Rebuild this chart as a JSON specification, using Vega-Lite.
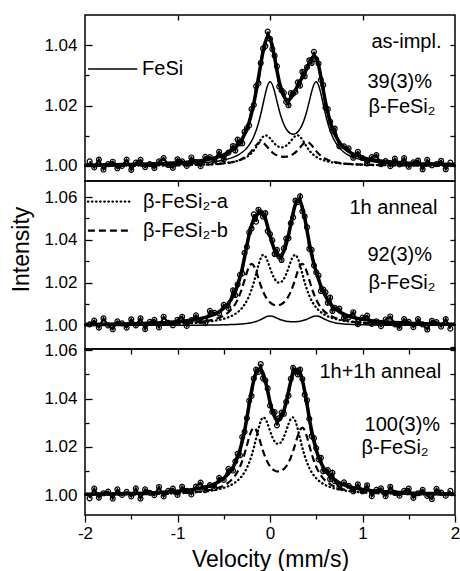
{
"$schema": "https://vega.github.io/schema/vega-lite/v6.json",
"autosize": {"type": "pad"},
"padding": {"left": 9, "top": 13, "right": 0, "bottom": 0},
"background": "white",
"spacing": 0,
"bounds": "flush",
"config": {
 "font": "Liberation Sans",
 "view": {"stroke": "black", "strokeWidth": 1.5},
 "axis": {"grid": false, "domain": false, "labelFont": "Liberation Sans", "titleFont": "Liberation Sans", "labelColor": "black", "titleColor": "black", "tickColor": "black", "tickWidth": 1.3, "labelFontSize": 17, "titleFontSize": 23, "titleFontWeight": "normal", "labelFlush": false}
},
"datasets": {
"fit": [
{"v":-2,"f1":1.00017,"a1":1.00006,"b1":1.00005,"t1":1.00028,"f2":1.00003,"a2":1.00021,"b2":1.00021,"t2":1.00045,"a3":1.00021,"b3":1.0002,"t3":1.00041},
{"v":-1.75,"f1":1.00022,"a1":1.00008,"b1":1.00007,"t1":1.00037,"f2":1.00003,"a2":1.00028,"b2":1.00027,"t2":1.00058,"a3":1.00027,"b3":1.00026,"t3":1.00053},
{"v":-1.5,"f1":1.00028,"a1":1.00011,"b1":1.00009,"t1":1.00048,"f2":1.00005,"a2":1.00037,"b2":1.00038,"t2":1.0008,"a3":1.00036,"b3":1.00035,"t3":1.00071},
{"v":-1.25,"f1":1.00039,"a1":1.00016,"b1":1.00013,"t1":1.00068,"f2":1.00006,"a2":1.00053,"b2":1.00055,"t2":1.00114,"a3":1.00052,"b3":1.00051,"t3":1.00103},
{"v":-1,"f1":1.00059,"a1":1.00024,"b1":1.0002,"t1":1.00103,"f2":1.00009,"a2":1.00081,"b2":1.00089,"t2":1.00179,"a3":1.00079,"b3":1.00082,"t3":1.00161},
{"v":-0.9,"f1":1.0007,"a1":1.00029,"b1":1.00025,"t1":1.00124,"f2":1.00011,"a2":1.001,"b2":1.00112,"t2":1.00223,"a3":1.00097,"b3":1.00103,"t3":1.002},
{"v":-0.8,"f1":1.00087,"a1":1.00036,"b1":1.00031,"t1":1.00154,"f2":1.00014,"a2":1.00125,"b2":1.00146,"t2":1.00285,"a3":1.00122,"b3":1.00133,"t3":1.00255},
{"v":-0.7,"f1":1.00109,"a1":1.00047,"b1":1.00041,"t1":1.00197,"f2":1.00017,"a2":1.00162,"b2":1.00199,"t2":1.00378,"a3":1.00158,"b3":1.00179,"t3":1.00337},
{"v":-0.65,"f1":1.00125,"a1":1.00053,"b1":1.00047,"t1":1.00225,"f2":1.0002,"a2":1.00186,"b2":1.00238,"t2":1.00444,"a3":1.00182,"b3":1.00213,"t3":1.00395},
{"v":-0.6,"f1":1.00143,"a1":1.00062,"b1":1.00056,"t1":1.00261,"f2":1.00023,"a2":1.00218,"b2":1.0029,"t2":1.00531,"a3":1.00213,"b3":1.00256,"t3":1.00469},
{"v":-0.55,"f1":1.00166,"a1":1.00073,"b1":1.00066,"t1":1.00305,"f2":1.00027,"a2":1.00258,"b2":1.00362,"t2":1.00647,"a3":1.00253,"b3":1.00315,"t3":1.00568},
{"v":-0.5,"f1":1.00195,"a1":1.00087,"b1":1.00081,"t1":1.00363,"f2":1.00031,"a2":1.00311,"b2":1.00463,"t2":1.00805,"a3":1.00304,"b3":1.00398,"t3":1.00702},
{"v":-0.45,"f1":1.00233,"a1":1.00106,"b1":1.00101,"t1":1.0044,"f2":1.00037,"a2":1.00382,"b2":1.00613,"t2":1.01032,"a3":1.00373,"b3":1.00517,"t3":1.0089},
{"v":-0.4,"f1":1.00284,"a1":1.00131,"b1":1.00129,"t1":1.00544,"f2":1.00045,"a2":1.0048,"b2":1.00844,"t2":1.01369,"a3":1.00469,"b3":1.00696,"t3":1.01165},
{"v":-0.375,"f1":1.00316,"a1":1.00148,"b1":1.00147,"t1":1.00611,"f2":1.0005,"a2":1.00543,"b2":1.01005,"t2":1.01598,"a3":1.00531,"b3":1.00821,"t3":1.01352},
{"v":-0.35,"f1":1.00353,"a1":1.00167,"b1":1.0017,"t1":1.0069,"f2":1.00056,"a2":1.00621,"b2":1.01208,"t2":1.01885,"a3":1.00606,"b3":1.00977,"t3":1.01583},
{"v":-0.325,"f1":1.00398,"a1":1.00191,"b1":1.00199,"t1":1.00788,"f2":1.00064,"a2":1.00715,"b2":1.01461,"t2":1.0224,"a3":1.00699,"b3":1.01174,"t3":1.01873},
{"v":-0.3,"f1":1.00452,"a1":1.0022,"b1":1.00234,"t1":1.00906,"f2":1.00072,"a2":1.00831,"b2":1.01769,"t2":1.02672,"a3":1.00812,"b3":1.0142,"t3":1.02232},
{"v":-0.275,"f1":1.00517,"a1":1.00256,"b1":1.00278,"t1":1.01051,"f2":1.00083,"a2":1.00977,"b2":1.0212,"t2":1.0318,"a3":1.00953,"b3":1.01718,"t3":1.02671},
{"v":-0.25,"f1":1.00597,"a1":1.003,"b1":1.00334,"t1":1.01231,"f2":1.00095,"a2":1.01159,"b2":1.02476,"t2":1.0373,"a3":1.0113,"b3":1.02059,"t3":1.03189},
{"v":-0.225,"f1":1.00696,"a1":1.00356,"b1":1.00404,"t1":1.01456,"f2":1.00111,"a2":1.01387,"b2":1.02758,"t2":1.04256,"a3":1.01353,"b3":1.02404,"t3":1.03757},
{"v":-0.2,"f1":1.0082,"a1":1.00426,"b1":1.00489,"t1":1.01735,"f2":1.00131,"a2":1.01672,"b2":1.02875,"t2":1.04678,"a3":1.01629,"b3":1.02678,"t3":1.04307},
{"v":-0.175,"f1":1.00976,"a1":1.00514,"b1":1.00585,"t1":1.02075,"f2":1.00156,"a2":1.02017,"b2":1.02781,"t2":1.04954,"a3":1.01965,"b3":1.02792,"t3":1.04757},
{"v":-0.15,"f1":1.01172,"a1":1.0062,"b1":1.00683,"t1":1.02475,"f2":1.00187,"a2":1.02412,"b2":1.02523,"t2":1.05122,"a3":1.02349,"b3":1.02704,"t3":1.05053},
{"v":-0.125,"f1":1.01416,"a1":1.00742,"b1":1.00761,"t1":1.02919,"f2":1.00226,"a2":1.02815,"b2":1.02192,"t2":1.05233,"a3":1.02742,"b3":1.02456,"t3":1.05198},
{"v":-0.1,"f1":1.01713,"a1":1.00866,"b1":1.00794,"t1":1.03373,"f2":1.00274,"a2":1.03142,"b2":1.01867,"t2":1.05283,"a3":1.03063,"b3":1.02138,"t3":1.05201},
{"v":-0.075,"f1":1.02052,"a1":1.00966,"b1":1.0077,"t1":1.03788,"f2":1.00328,"a2":1.03295,"b2":1.01588,"t2":1.05211,"a3":1.03217,"b3":1.01827,"t3":1.05044},
{"v":-0.05,"f1":1.02396,"a1":1.01013,"b1":1.007,"t1":1.04109,"f2":1.00383,"a2":1.03228,"b2":1.01367,"t2":1.04978,"a3":1.03162,"b3":1.01561,"t3":1.04723},
{"v":-0.025,"f1":1.0267,"a1":1.00992,"b1":1.00611,"t1":1.04273,"f2":1.00426,"a2":1.0299,"b2":1.012,"t2":1.04616,"a3":1.02945,"b3":1.01351,"t3":1.04296},
{"v":0,"f1":1.02785,"a1":1.00919,"b1":1.00524,"t1":1.04228,"f2":1.00445,"a2":1.02683,"b2":1.0108,"t2":1.04208,"a3":1.02666,"b3":1.01195,"t3":1.03861},
{"v":0.025,"f1":1.02699,"a1":1.00825,"b1":1.0045,"t1":1.03974,"f2":1.00431,"a2":1.02397,"b2":1.00999,"t2":1.03827,"a3":1.0241,"b3":1.01086,"t3":1.03496},
{"v":0.05,"f1":1.02456,"a1":1.00737,"b1":1.00392,"t1":1.03585,"f2":1.00392,"a2":1.02178,"b2":1.00953,"t2":1.03523,"a3":1.02226,"b3":1.01017,"t3":1.03243},
{"v":0.075,"f1":1.02143,"a1":1.0067,"b1":1.0035,"t1":1.03163,"f2":1.00342,"a2":1.02044,"b2":1.00938,"t2":1.03324,"a3":1.02131,"b3":1.00984,"t3":1.03115},
{"v":0.1,"f1":1.01838,"a1":1.00629,"b1":1.00322,"t1":1.02789,"f2":1.00293,"a2":1.02,"b2":1.00953,"t2":1.03246,"a3":1.02131,"b3":1.00984,"t3":1.03115},
{"v":0.125,"f1":1.01578,"a1":1.00615,"b1":1.00305,"t1":1.02498,"f2":1.00252,"a2":1.02044,"b2":1.00999,"t2":1.03295,"a3":1.02226,"b3":1.01017,"t3":1.03243},
{"v":0.15,"f1":1.01375,"a1":1.00629,"b1":1.003,"t1":1.02304,"f2":1.0022,"a2":1.02178,"b2":1.0108,"t2":1.03478,"a3":1.0241,"b3":1.01086,"t3":1.03496},
{"v":0.175,"f1":1.01227,"a1":1.0067,"b1":1.00305,"t1":1.02202,"f2":1.00196,"a2":1.02397,"b2":1.012,"t2":1.03793,"a3":1.02666,"b3":1.01195,"t3":1.03861},
{"v":0.2,"f1":1.01128,"a1":1.00737,"b1":1.00322,"t1":1.02187,"f2":1.0018,"a2":1.02683,"b2":1.01367,"t2":1.0423,"a3":1.02945,"b3":1.01351,"t3":1.04296},
{"v":0.225,"f1":1.0107,"a1":1.00825,"b1":1.0035,"t1":1.02245,"f2":1.00171,"a2":1.0299,"b2":1.01588,"t2":1.04749,"a3":1.03162,"b3":1.01561,"t3":1.04723},
{"v":0.25,"f1":1.01052,"a1":1.00919,"b1":1.00392,"t1":1.02363,"f2":1.00168,"a2":1.03228,"b2":1.01867,"t2":1.05263,"a3":1.03217,"b3":1.01827,"t3":1.05044},
{"v":0.275,"f1":1.0107,"a1":1.00992,"b1":1.0045,"t1":1.02512,"f2":1.00171,"a2":1.03295,"b2":1.02192,"t2":1.05658,"a3":1.03063,"b3":1.02138,"t3":1.05201},
{"v":0.3,"f1":1.01128,"a1":1.01013,"b1":1.00524,"t1":1.02665,"f2":1.0018,"a2":1.03142,"b2":1.02523,"t2":1.05845,"a3":1.02742,"b3":1.02456,"t3":1.05198},
{"v":0.325,"f1":1.01227,"a1":1.00966,"b1":1.00611,"t1":1.02804,"f2":1.00196,"a2":1.02815,"b2":1.02781,"t2":1.05792,"a3":1.02349,"b3":1.02704,"t3":1.05053},
{"v":0.35,"f1":1.01375,"a1":1.00866,"b1":1.007,"t1":1.02941,"f2":1.0022,"a2":1.02412,"b2":1.02875,"t2":1.05507,"a3":1.01965,"b3":1.02792,"t3":1.04757},
{"v":0.375,"f1":1.01578,"a1":1.00742,"b1":1.0077,"t1":1.0309,"f2":1.00252,"a2":1.02017,"b2":1.02758,"t2":1.05027,"a3":1.01629,"b3":1.02678,"t3":1.04307},
{"v":0.4,"f1":1.01838,"a1":1.0062,"b1":1.00794,"t1":1.03252,"f2":1.00293,"a2":1.01672,"b2":1.02476,"t2":1.04441,"a3":1.01353,"b3":1.02404,"t3":1.03757},
{"v":0.425,"f1":1.02143,"a1":1.00514,"b1":1.00761,"t1":1.03418,"f2":1.00342,"a2":1.01387,"b2":1.0212,"t2":1.03849,"a3":1.0113,"b3":1.02059,"t3":1.03189},
{"v":0.45,"f1":1.02456,"a1":1.00426,"b1":1.00683,"t1":1.03565,"f2":1.00392,"a2":1.01159,"b2":1.01769,"t2":1.0332,"a3":1.00953,"b3":1.01718,"t3":1.02671},
{"v":0.475,"f1":1.02699,"a1":1.00356,"b1":1.00585,"t1":1.0364,"f2":1.00431,"a2":1.00977,"b2":1.01461,"t2":1.02869,"a3":1.00812,"b3":1.0142,"t3":1.02232},
{"v":0.5,"f1":1.02785,"a1":1.003,"b1":1.00489,"t1":1.03574,"f2":1.00445,"a2":1.00831,"b2":1.01208,"t2":1.02484,"a3":1.00699,"b3":1.01174,"t3":1.01873},
{"v":0.525,"f1":1.0267,"a1":1.00256,"b1":1.00404,"t1":1.0333,"f2":1.00426,"a2":1.00715,"b2":1.01005,"t2":1.02146,"a3":1.00606,"b3":1.00977,"t3":1.01583},
{"v":0.55,"f1":1.02396,"a1":1.0022,"b1":1.00334,"t1":1.0295,"f2":1.00383,"a2":1.00621,"b2":1.00844,"t2":1.01848,"a3":1.00531,"b3":1.00821,"t3":1.01352},
{"v":0.575,"f1":1.02052,"a1":1.00191,"b1":1.00278,"t1":1.02521,"f2":1.00328,"a2":1.00543,"b2":1.00716,"t2":1.01587,"a3":1.00469,"b3":1.00696,"t3":1.01165},
{"v":0.6,"f1":1.01713,"a1":1.00167,"b1":1.00234,"t1":1.02114,"f2":1.00274,"a2":1.0048,"b2":1.00613,"t2":1.01367,"a3":1.00417,"b3":1.00597,"t3":1.01014},
{"v":0.625,"f1":1.01416,"a1":1.00148,"b1":1.00199,"t1":1.01763,"f2":1.00226,"a2":1.00426,"b2":1.00531,"t2":1.01183,"a3":1.00373,"b3":1.00517,"t3":1.0089},
{"v":0.65,"f1":1.01172,"a1":1.00131,"b1":1.0017,"t1":1.01473,"f2":1.00187,"a2":1.00382,"b2":1.00463,"t2":1.01032,"a3":1.00336,"b3":1.00452,"t3":1.00788},
{"v":0.675,"f1":1.00976,"a1":1.00117,"b1":1.00147,"t1":1.0124,"f2":1.00156,"a2":1.00343,"b2":1.00408,"t2":1.00907,"a3":1.00304,"b3":1.00398,"t3":1.00702},
{"v":0.7,"f1":1.0082,"a1":1.00106,"b1":1.00129,"t1":1.01055,"f2":1.00131,"a2":1.00311,"b2":1.00362,"t2":1.00804,"a3":1.00276,"b3":1.00353,"t3":1.00629},
{"v":0.75,"f1":1.00597,"a1":1.00087,"b1":1.00101,"t1":1.00785,"f2":1.00095,"a2":1.00258,"b2":1.0029,"t2":1.00643,"a3":1.00232,"b3":1.00283,"t3":1.00515},
{"v":0.8,"f1":1.00452,"a1":1.00073,"b1":1.00081,"t1":1.00606,"f2":1.00072,"a2":1.00218,"b2":1.00238,"t2":1.00528,"a3":1.00197,"b3":1.00233,"t3":1.0043},
{"v":0.85,"f1":1.00353,"a1":1.00062,"b1":1.00066,"t1":1.00481,"f2":1.00056,"a2":1.00186,"b2":1.00199,"t2":1.00441,"a3":1.0017,"b3":1.00195,"t3":1.00365},
{"v":0.9,"f1":1.00284,"a1":1.00053,"b1":1.00056,"t1":1.00393,"f2":1.00045,"a2":1.00162,"b2":1.00169,"t2":1.00376,"a3":1.00148,"b3":1.00165,"t3":1.00313},
{"v":1,"f1":1.00195,"a1":1.00041,"b1":1.00041,"t1":1.00277,"f2":1.00031,"a2":1.00125,"b2":1.00127,"t2":1.00283,"a3":1.00115,"b3":1.00124,"t3":1.00239},
{"v":1.1,"f1":1.00143,"a1":1.00032,"b1":1.00031,"t1":1.00206,"f2":1.00023,"a2":1.001,"b2":1.00099,"t2":1.00222,"a3":1.00092,"b3":1.00097,"t3":1.00189},
{"v":1.25,"f1":1.00097,"a1":1.00024,"b1":1.00022,"t1":1.00143,"f2":1.00015,"a2":1.00074,"b2":1.00072,"t2":1.00161,"a3":1.00069,"b3":1.0007,"t3":1.00139},
{"v":1.5,"f1":1.00059,"a1":1.00016,"b1":1.00014,"t1":1.00089,"f2":1.00009,"a2":1.00049,"b2":1.00047,"t2":1.00105,"a3":1.00046,"b3":1.00046,"t3":1.00092},
{"v":1.75,"f1":1.00039,"a1":1.00011,"b1":1.0001,"t1":1.0006,"f2":1.00006,"a2":1.00035,"b2":1.00033,"t2":1.00074,"a3":1.00033,"b3":1.00032,"t3":1.00065},
{"v":2,"f1":1.00028,"a1":1.00008,"b1":1.00007,"t1":1.00043,"f2":1.00005,"a2":1.00026,"b2":1.00024,"t2":1.00055,"a3":1.00025,"b3":1.00024,"t3":1.00049}
],
"obs": [
{"v":-1.95,"d1":1.0015,"d2":1.0005,"d3":0.9987},
{"v":-1.9,"d1":0.9995,"d2":1.0023,"d3":1.0027},
{"v":-1.85,"d1":1.0021,"d2":0.999,"d3":0.999},
{"v":-1.8,"d1":0.9988,"d2":1.0033,"d3":1.0008},
{"v":-1.75,"d1":1.0006,"d2":1.0,"d3":1.0015},
{"v":-1.7,"d1":1.0014,"d2":0.9982,"d3":0.9986},
{"v":-1.65,"d1":0.9992,"d2":1.0019,"d3":1.0024},
{"v":-1.6,"d1":1.0,"d2":1.001,"d3":1.0001},
{"v":-1.55,"d1":1.0021,"d2":0.999,"d3":1.0014},
{"v":-1.5,"d1":0.9987,"d2":1.0029,"d3":0.9995},
{"v":-1.45,"d1":1.0011,"d2":1.0,"d3":1.0028},
{"v":-1.4,"d1":1.002,"d2":1.0033,"d3":0.9986},
{"v":-1.35,"d1":0.9996,"d2":0.9983,"d3":1.0024},
{"v":-1.3,"d1":1.0006,"d2":1.0017,"d3":1.001},
{"v":-1.25,"d1":0.9993,"d2":1.0026,"d3":1.0},
{"v":-1.2,"d1":1.0015,"d2":0.9991,"d3":1.0034},
{"v":-1.15,"d1":1.0026,"d2":1.0041,"d3":0.9995},
{"v":-1.1,"d1":1.0003,"d2":1.0012,"d3":1.0018},
{"v":-1.05,"d1":0.9994,"d2":1.0001,"d3":1.0027},
{"v":-1.0,"d1":1.0022,"d2":1.0027,"d3":1.0001},
{"v":-0.95,"d1":1.0015,"d2":1.0041,"d3":1.0035},
{"v":-0.9,"d1":1.0,"d2":0.9998,"d3":1.0018},
{"v":-0.85,"d1":1.0028,"d2":1.0025,"d3":1.0003},
{"v":-0.8,"d1":1.0013,"d2":1.0047,"d3":1.0036},
{"v":-0.75,"d1":0.9999,"d2":1.0021,"d3":1.0052},
{"v":-0.7,"d1":1.003,"d2":1.0011,"d3":1.0021},
{"v":-0.65,"d1":1.0029,"d2":1.0068,"d3":1.0042},
{"v":-0.6,"d1":1.0018,"d2":1.0059,"d3":1.0029},
{"v":-0.55,"d1":1.0047,"d2":1.0056,"d3":1.0072},
{"v":-0.5,"d1":1.0022,"d2":1.0096,"d3":1.0063},
{"v":-0.45,"d1":1.0044,"d2":1.0082,"d3":1.0109},
{"v":-0.4,"d1":1.0066,"d2":1.0164,"d3":1.0102},
{"v":-0.375,"d1":1.0051,"d2":1.0142,"d3":1.014},
{"v":-0.35,"d1":1.0087,"d2":1.0192,"d3":1.0171},
{"v":-0.325,"d1":1.0075,"d2":1.0236,"d3":1.0165},
{"v":-0.3,"d1":1.0075,"d2":1.0243,"d3":1.0241},
{"v":-0.275,"d1":1.0113,"d2":1.0339,"d3":1.0262},
{"v":-0.25,"d1":1.0125,"d2":1.0367,"d3":1.0319},
{"v":-0.225,"d1":1.0134,"d2":1.0435,"d3":1.0391},
{"v":-0.2,"d1":1.0188,"d2":1.0453,"d3":1.0411},
{"v":-0.175,"d1":1.0202,"d2":1.0519,"d3":1.0483},
{"v":-0.15,"d1":1.0264,"d2":1.0485,"d3":1.052},
{"v":-0.125,"d1":1.0274,"d2":1.0541,"d3":1.051},
{"v":-0.1,"d1":1.0341,"d2":1.0528,"d3":1.0543},
{"v":-0.075,"d1":1.0389,"d2":1.0509,"d3":1.0484},
{"v":-0.05,"d1":1.0397,"d2":1.0525,"d3":1.0475},
{"v":-0.025,"d1":1.0445,"d2":1.0441,"d3":1.0442},
{"v":0,"d1":1.0421,"d2":1.0427,"d3":1.0371},
{"v":0.025,"d1":1.0387,"d2":1.0398,"d3":1.0345},
{"v":0.05,"d1":1.0365,"d2":1.0334,"d3":1.0344},
{"v":0.075,"d1":1.033,"d2":1.0353,"d3":1.0289},
{"v":0.1,"d1":1.0263,"d2":1.0322,"d3":1.0319},
{"v":0.125,"d1":1.025,"d2":1.0306,"d3":1.0342},
{"v":0.15,"d1":1.0242,"d2":1.036,"d3":1.0337},
{"v":0.175,"d1":1.0212,"d2":1.0406,"d3":1.0386},
{"v":0.2,"d1":1.0201,"d2":1.0408,"d3":1.0412},
{"v":0.225,"d1":1.0241,"d2":1.0478,"d3":1.0482},
{"v":0.25,"d1":1.024,"d2":1.0505,"d3":1.0527},
{"v":0.275,"d1":1.0245,"d2":1.0584,"d3":1.0513},
{"v":0.3,"d1":1.0277,"d2":1.0576,"d3":1.05},
{"v":0.325,"d1":1.0266,"d2":1.0603,"d3":1.052},
{"v":0.35,"d1":1.0312,"d2":1.0533,"d3":1.0481},
{"v":0.375,"d1":1.0297,"d2":1.0509,"d3":1.0416},
{"v":0.4,"d1":1.0327,"d2":1.0459,"d3":1.0393},
{"v":0.425,"d1":1.035,"d2":1.0358,"d3":1.0316},
{"v":0.45,"d1":1.0341,"d2":1.0353,"d3":1.0245},
{"v":0.475,"d1":1.0378,"d2":1.0281,"d3":1.0236},
{"v":0.5,"d1":1.0353,"d2":1.0248,"d3":1.0195},
{"v":0.525,"d1":1.0339,"d2":1.0233,"d3":1.0148},
{"v":0.55,"d1":1.0285,"d2":1.0161,"d3":1.0155},
{"v":0.575,"d1":1.0268,"d2":1.0168,"d3":1.0099},
{"v":0.6,"d1":1.0193,"d2":1.0155,"d3":1.0101},
{"v":0.625,"d1":1.0188,"d2":1.0106,"d3":1.0104},
{"v":0.65,"d1":1.0147,"d2":1.013,"d3":1.0066},
{"v":0.675,"d1":1.0116,"d2":1.0067,"d3":1.0093},
{"v":0.7,"d1":1.0124,"d2":1.0083,"d3":1.0058},
{"v":0.75,"d1":1.0065,"d2":1.0079,"d3":1.0032},
{"v":0.8,"d1":1.0065,"d2":1.0035,"d3":1.0053},
{"v":0.85,"d1":1.0058,"d2":1.0038,"d3":1.0039},
{"v":0.9,"d1":1.0027,"d2":1.0062,"d3":1.0016},
{"v":0.95,"d1":1.0047,"d2":1.0006,"d3":1.0045},
{"v":1.0,"d1":1.0026,"d2":1.0037,"d3":1.0016},
{"v":1.05,"d1":1.0008,"d2":1.0046,"d3":1.0041},
{"v":1.1,"d1":1.0029,"d2":1.0007,"d3":0.9996},
{"v":1.15,"d1":1.0036,"d2":1.002,"d3":1.0022},
{"v":1.2,"d1":1.0006,"d2":0.9997,"d3":1.0028},
{"v":1.25,"d1":1.0016,"d2":1.0028,"d3":0.9996},
{"v":1.3,"d1":0.9999,"d2":1.0042,"d3":1.0035},
{"v":1.35,"d1":1.0024,"d2":1.0005,"d3":1.0009},
{"v":1.4,"d1":1.0005,"d2":0.9989,"d3":0.9998},
{"v":1.45,"d1":1.0026,"d2":1.003,"d3":1.0018},
{"v":1.5,"d1":0.9997,"d2":1.0017,"d3":1.0027},
{"v":1.55,"d1":1.0012,"d2":0.9992,"d3":0.9989},
{"v":1.6,"d1":1.0018,"d2":1.003,"d3":1.0008},
{"v":1.65,"d1":0.9989,"d2":1.0005,"d3":1.0022},
{"v":1.7,"d1":1.002,"d2":0.9981,"d3":0.9997},
{"v":1.75,"d1":1.0002,"d2":1.0022,"d3":0.9984},
{"v":1.8,"d1":1.0006,"d2":1.0016,"d3":1.0026},
{"v":1.85,"d1":1.0017,"d2":0.9995,"d3":1.0011},
{"v":1.9,"d1":0.9989,"d2":1.003,"d3":0.9998},
{"v":1.95,"d1":1.0011,"d2":0.9985,"d3":1.0018}
]
},
"vconcat": [
{
 "width": 370, "height": 166,
 "resolve": {"axis": {"x": "independent", "y": "independent"}},
 "layer": [
  {"data": {"name": "obs"}, "mark": {"type": "line", "color": "black", "strokeWidth": 2.2},
   "encoding": {
    "x": {"field": "v", "type": "quantitative", "scale": {"domain": [-2, 2], "nice": false}, "axis": null},
    "y": {"field": "d1", "type": "quantitative", "scale": {"domain": [0.995, 1.05], "nice": false, "zero": false}, "axis": {"orient": "left", "values": [1, 1.02, 1.04], "format": ".2f", "ticks": false, "tickSize": 0, "labelPadding": 8, "title": null}}}},
  {"data": {"name": "obs"}, "mark": {"type": "point", "shape": "circle", "filled": false, "color": "black", "size": 24, "strokeWidth": 1.2, "opacity": 1},
   "encoding": {
    "x": {"field": "v", "type": "quantitative", "scale": {"domain": [-2, 2], "nice": false}, "axis": {"orient": "top", "values": [-1, 0, 1], "offset": -5, "tickSize": 5, "labels": false, "title": null}},
    "y": {"field": "d1", "type": "quantitative", "scale": {"domain": [0.995, 1.05], "nice": false, "zero": false}, "axis": {"orient": "left", "values": [1, 1.02, 1.04], "offset": -7, "tickSize": 7, "labels": false, "title": null}}}},
  {"data": {"name": "fit"}, "mark": {"type": "line", "color": "black", "strokeWidth": 3.5, "interpolate": "monotone"},
   "encoding": {
    "x": {"field": "v", "type": "quantitative", "scale": {"domain": [-2, 2], "nice": false}, "axis": null},
    "y": {"field": "t1", "type": "quantitative", "scale": {"domain": [0.995, 1.05], "nice": false, "zero": false}, "axis": {"orient": "left", "values": [1.01, 1.03], "offset": -4, "tickSize": 4, "labels": false, "title": null}}}},
  {"data": {"name": "fit"}, "mark": {"type": "line", "color": "black", "strokeWidth": 1.5, "interpolate": "monotone"},
   "encoding": {
    "x": {"field": "v", "type": "quantitative", "scale": {"domain": [-2, 2], "nice": false}, "axis": null},
    "y": {"field": "f1", "type": "quantitative", "scale": {"domain": [0.995, 1.05], "nice": false, "zero": false}, "axis": {"orient": "right", "values": [1, 1.01, 1.02, 1.03, 1.04], "offset": -5, "tickSize": 5, "labels": false, "title": null}}}},
  {"data": {"name": "fit"}, "mark": {"type": "line", "color": "black", "strokeWidth": 2.3, "strokeDash": [0.5, 3.6], "strokeCap": "round", "interpolate": "monotone"},
   "encoding": {
    "x": {"field": "v", "type": "quantitative", "scale": {"domain": [-2, 2], "nice": false}, "axis": null},
    "y": {"field": "a1", "type": "quantitative", "scale": {"domain": [0.995, 1.05], "nice": false, "zero": false}, "axis": null}}},
  {"data": {"name": "fit"}, "mark": {"type": "line", "color": "black", "strokeWidth": 2.2, "strokeDash": [7, 4], "interpolate": "monotone"},
   "encoding": {
    "x": {"field": "v", "type": "quantitative", "scale": {"domain": [-2, 2], "nice": false}, "axis": null},
    "y": {"field": "b1", "type": "quantitative", "scale": {"domain": [0.995, 1.05], "nice": false, "zero": false}, "axis": null}}},
  {"data": {"values": [{"x1": -1.967, "x2": -1.435, "y": 1.0321}]}, "mark": {"type": "rule", "color": "black", "strokeWidth": 1.5},
   "encoding": {
    "x": {"field": "x1", "type": "quantitative", "scale": {"domain": [-2, 2], "nice": false}, "axis": null},
    "x2": {"field": "x2"},
    "y": {"field": "y", "type": "quantitative", "scale": {"domain": [0.995, 1.05], "nice": false, "zero": false}, "axis": null}}},
  {"data": {"values": [{"v": -1.383, "y": 1.0321, "t": "FeSi"}]}, "mark": {"type": "text", "align": "left", "baseline": "middle", "fontSize": 20, "font": "Liberation Sans", "color": "black"},
   "encoding": {
    "x": {"field": "v", "type": "quantitative", "scale": {"domain": [-2, 2], "nice": false}, "axis": null},
    "y": {"field": "y", "type": "quantitative", "scale": {"domain": [0.995, 1.05], "nice": false, "zero": false}, "axis": null},
    "text": {"field": "t"}}},
  {"data": {"values": [{"v": 1.097, "y": 1.041, "t": "as-impl."}, {"v": 1.054, "y": 1.0278, "t": "39(3)%"}, {"v": 1.065, "y": 1.0195, "t": "β-FeSi₂"}]}, "mark": {"type": "text", "align": "left", "baseline": "middle", "fontSize": 20, "font": "Liberation Sans", "color": "black"},
   "encoding": {
    "x": {"field": "v", "type": "quantitative", "scale": {"domain": [-2, 2], "nice": false}, "axis": null},
    "y": {"field": "y", "type": "quantitative", "scale": {"domain": [0.995, 1.05], "nice": false, "zero": false}, "axis": null},
    "text": {"field": "t"}}}
 ]
},
{
 "width": 370, "height": 168,
 "resolve": {"axis": {"x": "independent", "y": "independent"}},
 "layer": [
  {"data": {"name": "obs"}, "mark": {"type": "line", "color": "black", "strokeWidth": 2.2},
   "encoding": {
    "x": {"field": "v", "type": "quantitative", "scale": {"domain": [-2, 2], "nice": false}, "axis": null},
    "y": {"field": "d2", "type": "quantitative", "scale": {"domain": [0.989, 1.0675], "nice": false, "zero": false}, "axis": {"orient": "left", "values": [1, 1.02, 1.04, 1.06], "format": ".2f", "ticks": false, "tickSize": 0, "labelPadding": 8, "title": "Intensity", "titleX": -64, "titleY": 68, "titleBaseline": "middle", "titleAlign": "center", "titleAngle": 270}}}},
  {"data": {"name": "obs"}, "mark": {"type": "point", "shape": "circle", "filled": false, "color": "black", "size": 24, "strokeWidth": 1.2, "opacity": 1},
   "encoding": {
    "x": {"field": "v", "type": "quantitative", "scale": {"domain": [-2, 2], "nice": false}, "axis": {"orient": "top", "values": [-1, 0, 1], "offset": -5, "tickSize": 5, "labels": false, "title": null}},
    "y": {"field": "d2", "type": "quantitative", "scale": {"domain": [0.989, 1.0675], "nice": false, "zero": false}, "axis": {"orient": "left", "values": [1, 1.02, 1.04, 1.06], "offset": -7, "tickSize": 7, "labels": false, "title": null}}}},
  {"data": {"name": "fit"}, "mark": {"type": "line", "color": "black", "strokeWidth": 3.5, "interpolate": "monotone"},
   "encoding": {
    "x": {"field": "v", "type": "quantitative", "scale": {"domain": [-2, 2], "nice": false}, "axis": null},
    "y": {"field": "t2", "type": "quantitative", "scale": {"domain": [0.989, 1.0675], "nice": false, "zero": false}, "axis": {"orient": "left", "values": [1.01, 1.03, 1.05], "offset": -4, "tickSize": 4, "labels": false, "title": null}}}},
  {"data": {"name": "fit"}, "mark": {"type": "line", "color": "black", "strokeWidth": 1.5, "interpolate": "monotone"},
   "encoding": {
    "x": {"field": "v", "type": "quantitative", "scale": {"domain": [-2, 2], "nice": false}, "axis": null},
    "y": {"field": "f2", "type": "quantitative", "scale": {"domain": [0.989, 1.0675], "nice": false, "zero": false}, "axis": {"orient": "right", "values": [0.99, 1, 1.01, 1.02, 1.03, 1.04, 1.05, 1.06], "offset": -5, "tickSize": 5, "labels": false, "title": null}}}},
  {"data": {"name": "fit"}, "mark": {"type": "line", "color": "black", "strokeWidth": 2.3, "strokeDash": [0.5, 3.6], "strokeCap": "round", "interpolate": "monotone"},
   "encoding": {
    "x": {"field": "v", "type": "quantitative", "scale": {"domain": [-2, 2], "nice": false}, "axis": null},
    "y": {"field": "a2", "type": "quantitative", "scale": {"domain": [0.989, 1.0675], "nice": false, "zero": false}, "axis": null}}},
  {"data": {"name": "fit"}, "mark": {"type": "line", "color": "black", "strokeWidth": 2.2, "strokeDash": [7, 4], "interpolate": "monotone"},
   "encoding": {
    "x": {"field": "v", "type": "quantitative", "scale": {"domain": [-2, 2], "nice": false}, "axis": null},
    "y": {"field": "b2", "type": "quantitative", "scale": {"domain": [0.989, 1.0675], "nice": false, "zero": false}, "axis": null}}},
  {"data": {"values": [{"x1": -1.969, "x2": -1.492, "y": 1.0579}]}, "mark": {"type": "rule", "color": "black", "strokeWidth": 2.3, "strokeDash": [0.5, 3.6], "strokeCap": "round"},
   "encoding": {
    "x": {"field": "x1", "type": "quantitative", "scale": {"domain": [-2, 2], "nice": false}, "axis": null},
    "x2": {"field": "x2"},
    "y": {"field": "y", "type": "quantitative", "scale": {"domain": [0.989, 1.0675], "nice": false, "zero": false}, "axis": null}}},
  {"data": {"values": [{"x1": -1.969, "x2": -1.492, "y": 1.0443}]}, "mark": {"type": "rule", "color": "black", "strokeWidth": 2.2, "strokeDash": [7, 4]},
   "encoding": {
    "x": {"field": "x1", "type": "quantitative", "scale": {"domain": [-2, 2], "nice": false}, "axis": null},
    "x2": {"field": "x2"},
    "y": {"field": "y", "type": "quantitative", "scale": {"domain": [0.989, 1.0675], "nice": false, "zero": false}, "axis": null}}},
  {"data": {"values": [{"v": -1.372, "y": 1.0579, "t": "β-FeSi₂-a"}, {"v": -1.372, "y": 1.0443, "t": "β-FeSi₂-b"}]}, "mark": {"type": "text", "align": "left", "baseline": "middle", "fontSize": 20, "font": "Liberation Sans", "color": "black"},
   "encoding": {
    "x": {"field": "v", "type": "quantitative", "scale": {"domain": [-2, 2], "nice": false}, "axis": null},
    "y": {"field": "y", "type": "quantitative", "scale": {"domain": [0.989, 1.0675], "nice": false, "zero": false}, "axis": null},
    "text": {"field": "t"}}},
  {"data": {"values": [{"v": 0.859, "y": 1.0548, "t": "1h anneal"}, {"v": 1.054, "y": 1.0327, "t": "92(3)%"}, {"v": 1.065, "y": 1.02, "t": "β-FeSi₂"}]}, "mark": {"type": "text", "align": "left", "baseline": "middle", "fontSize": 20, "font": "Liberation Sans", "color": "black"},
   "encoding": {
    "x": {"field": "v", "type": "quantitative", "scale": {"domain": [-2, 2], "nice": false}, "axis": null},
    "y": {"field": "y", "type": "quantitative", "scale": {"domain": [0.989, 1.0675], "nice": false, "zero": false}, "axis": null},
    "text": {"field": "t"}}}
 ]
},
{
 "width": 370, "height": 166,
 "resolve": {"axis": {"x": "independent", "y": "independent"}},
 "layer": [
  {"data": {"name": "obs"}, "mark": {"type": "line", "color": "black", "strokeWidth": 2.2},
   "encoding": {
    "x": {"field": "v", "type": "quantitative", "scale": {"domain": [-2, 2], "nice": false}, "axis": {"orient": "bottom", "values": [-2, -1, 0, 1, 2], "tickSize": 7, "labelPadding": 3, "labelExpr": "'' + datum.value", "labelFlush": false, "title": "Velocity (mm/s)", "titleY": 44, "titleBaseline": "middle"}},
    "y": {"field": "d3", "type": "quantitative", "scale": {"domain": [0.9918, 1.0605], "nice": false, "zero": false}, "axis": {"orient": "left", "values": [1, 1.02, 1.04, 1.06], "format": ".2f", "ticks": false, "tickSize": 0, "labelPadding": 8, "title": null}}}},
  {"data": {"name": "obs"}, "mark": {"type": "point", "shape": "circle", "filled": false, "color": "black", "size": 24, "strokeWidth": 1.2, "opacity": 1},
   "encoding": {
    "x": {"field": "v", "type": "quantitative", "scale": {"domain": [-2, 2], "nice": false}, "axis": {"orient": "top", "values": [-1.5, -1, -0.5, 0, 0.5, 1, 1.5], "offset": -5, "tickSize": 5, "labels": false, "title": null}},
    "y": {"field": "d3", "type": "quantitative", "scale": {"domain": [0.9918, 1.0605], "nice": false, "zero": false}, "axis": {"orient": "left", "values": [1, 1.02, 1.04, 1.06], "offset": -7, "tickSize": 7, "labels": false, "title": null}}}},
  {"data": {"name": "fit"}, "mark": {"type": "line", "color": "black", "strokeWidth": 3.5, "interpolate": "monotone"},
   "encoding": {
    "x": {"field": "v", "type": "quantitative", "scale": {"domain": [-2, 2], "nice": false}, "axis": {"orient": "bottom", "values": [-1.5, -0.5, 0.5, 1.5], "tickSize": 4, "labels": false, "title": null}},
    "y": {"field": "t3", "type": "quantitative", "scale": {"domain": [0.9918, 1.0605], "nice": false, "zero": false}, "axis": {"orient": "left", "values": [1.01, 1.03, 1.05], "offset": -4, "tickSize": 4, "labels": false, "title": null}}}},
  {"data": {"name": "fit"}, "mark": {"type": "line", "color": "black", "strokeWidth": 2.3, "strokeDash": [0.5, 3.6], "strokeCap": "round", "interpolate": "monotone"},
   "encoding": {
    "x": {"field": "v", "type": "quantitative", "scale": {"domain": [-2, 2], "nice": false}, "axis": null},
    "y": {"field": "a3", "type": "quantitative", "scale": {"domain": [0.9918, 1.0605], "nice": false, "zero": false}, "axis": {"orient": "right", "values": [1, 1.01, 1.02, 1.03, 1.04, 1.05, 1.06], "offset": -5, "tickSize": 5, "labels": false, "title": null}}}},
  {"data": {"name": "fit"}, "mark": {"type": "line", "color": "black", "strokeWidth": 2.2, "strokeDash": [7, 4], "interpolate": "monotone"},
   "encoding": {
    "x": {"field": "v", "type": "quantitative", "scale": {"domain": [-2, 2], "nice": false}, "axis": null},
    "y": {"field": "b3", "type": "quantitative", "scale": {"domain": [0.9918, 1.0605], "nice": false, "zero": false}, "axis": null}}},
  {"data": {"values": [{"v": 0.534, "y": 1.0508, "t": "1h+1h anneal"}, {"v": 1.022, "y": 1.0291, "t": "100(3)%"}, {"v": 0.99, "y": 1.0197, "t": "β-FeSi₂"}]}, "mark": {"type": "text", "align": "left", "baseline": "middle", "fontSize": 20, "font": "Liberation Sans", "color": "black"},
   "encoding": {
    "x": {"field": "v", "type": "quantitative", "scale": {"domain": [-2, 2], "nice": false}, "axis": null},
    "y": {"field": "y", "type": "quantitative", "scale": {"domain": [0.9918, 1.0605], "nice": false, "zero": false}, "axis": null},
    "text": {"field": "t"}}}
 ]
}
]
}
